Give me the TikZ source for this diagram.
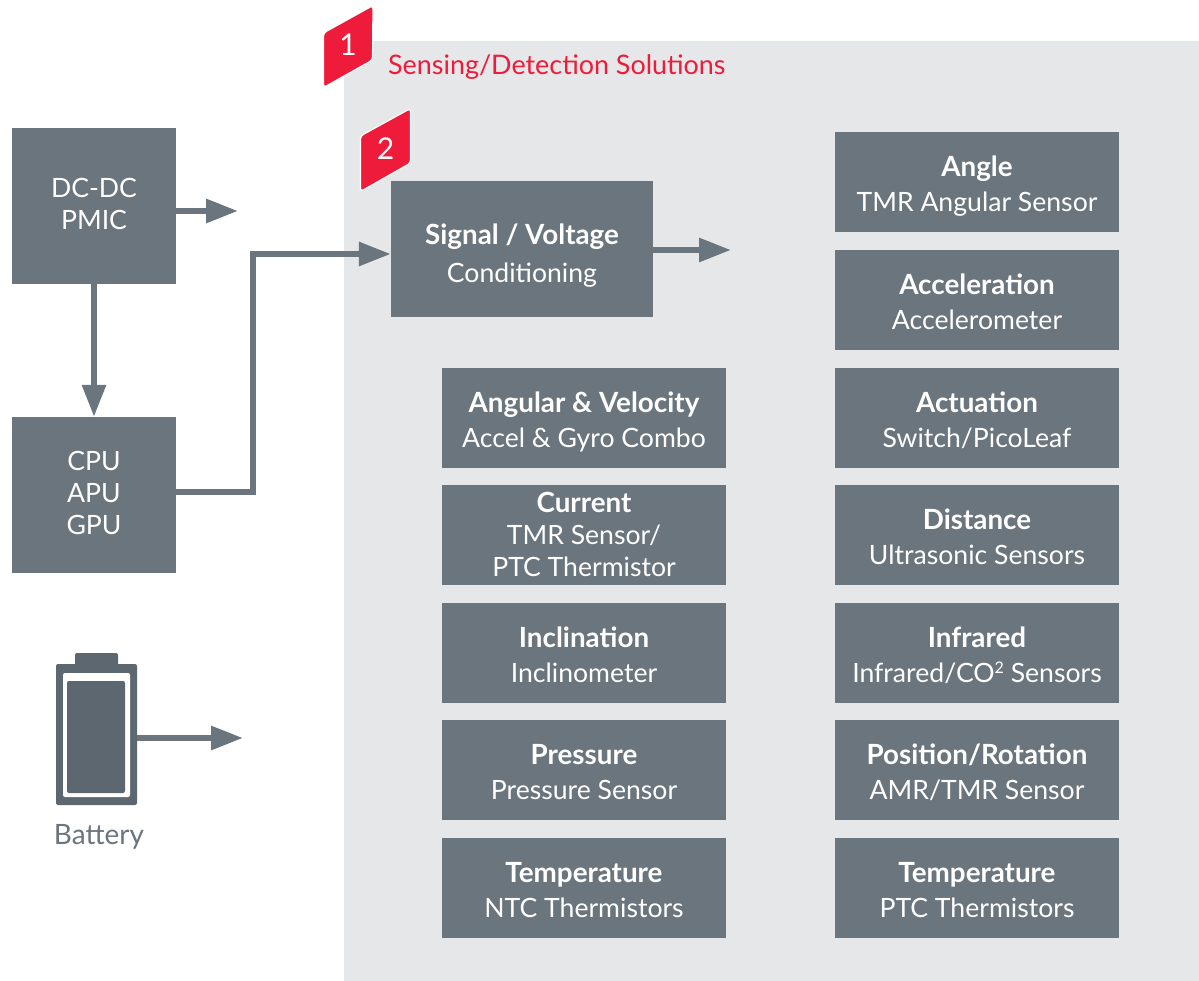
\documentclass[tikz,border=0pt]{standalone}
\usepackage{fontspec}
\setmainfont{Lato}
\usetikzlibrary{arrows.meta}
\definecolor{boxgrey}{HTML}{6B757D}
\definecolor{bggrey}{HTML}{E6E7E9}
\definecolor{alertred}{HTML}{EE1C3A}
\definecolor{batgrey}{HTML}{5C676F}
\newcommand{\hd}[1]{{\bfseries\fontsize{27.8}{30}\selectfont #1}}
\newcommand{\bal}[2]{\rule{0pt}{#1pt}#2\rule[-7pt]{0pt}{7pt}}
\tikzset{
  x=1pt,y=-1pt,
  block/.style={fill=boxgrey,text=white,align=center,inner sep=0pt,minimum width=284pt,minimum height=100pt,font=\fontsize{26.6}{35}\selectfont},
  tallblock/.style={block,minimum width=164pt,minimum height=156pt,font=\fontsize{26.6}{32}\selectfont},
  flow/.style={draw=boxgrey,line width=6pt,-{Triangle[length=32pt,width=23pt]}},
  badge/.style={fill=alertred,draw=white,line width=1.2pt,rounded corners=3pt},
  badgetext/.style={text=white,font=\fontsize{30}{30}\selectfont,inner sep=0pt},
  boxlabel/.style={text=boxgrey,inner sep=0pt},
}
\begin{document}
\begin{tikzpicture}
\useasboundingbox (0,0) rectangle (1199,981);
\fill[bggrey] (344,41) rectangle (1199,981);

% left column
\node[tallblock] (dc) at (94,206) {\bal{23}{DC-DC\\PMIC}};
\node[tallblock] (cpu) at (94,495) {\bal{22}{CPU\\APU\\GPU}};
\node[block,minimum width=262pt,minimum height=136pt,font=\fontsize{26.6}{38}\selectfont] (sig) at (522,249) {\bal{36}{\hd{Signal / Voltage}\\Conditioning}};

% sensor grid
\node[block] (ang) at (977,182) {\bal{32}{\hd{Angle}\\TMR Angular Sensor}};
\node[block] (acc) at (977,300) {\bal{32}{\hd{Acceleration}\\Accelerometer}};
\node[block] (act) at (977,418) {\bal{30}{\hd{Actuation}\\Switch/PicoLeaf}};
\node[block] (dis) at (977,535) {\bal{30}{\hd{Distance}\\Ultrasonic Sensors}};
\node[block] (inf) at (977,653) {\bal{30}{\hd{Infrared}\\Infrared/CO{\fontsize{16}{16}\selectfont\raisebox{9pt}{2}} Sensors}};
\node[block] (pos) at (977,770) {\bal{30}{\hd{Position/Rotation}\\AMR/TMR Sensor}};
\node[block] (tp2) at (977,888) {\bal{30}{\hd{Temperature}\\PTC Thermistors}};
\node[block] (vel) at (584,418) {\bal{30}{\hd{Angular \& Velocity}\\Accel \& Gyro Combo}};
\node[block,font=\fontsize{26.6}{32}\selectfont] (cur) at (584,535) {\bal{26}{\hd{Current}\\TMR Sensor/\\PTC Thermistor}};
\node[block] (inc) at (584,653) {\bal{30}{\hd{Inclination}\\Inclinometer}};
\node[block] (pre) at (584,770) {\bal{30}{\hd{Pressure}\\Pressure Sensor}};
\node[block] (tp1) at (584,888) {\bal{30}{\hd{Temperature}\\NTC Thermistors}};

% battery
\fill[batgrey,rounded corners=2pt] (75,653) rectangle (118,668);
\fill[batgrey,rounded corners=2pt] (56,664) rectangle (137,805);
\fill[white,rounded corners=2pt] (63,673) rectangle (130,797);
\fill[batgrey,rounded corners=2pt] (67,681) rectangle (125,793);
\coordinate (bat) at (137,738);
\node[boxlabel,font=\fontsize{28}{30}\selectfont] (batl) at (99,837) {Battery};

% connectors
\coordinate (dcout) at (238,211);
\coordinate (sigout) at (731,250);
\coordinate (batout) at (243,738);
\draw[flow] (dc.east |- dcout) -- (dcout);
\draw[flow] (dc.south) -- (cpu.north);
\draw[flow] (cpu.east |- 0,492) -- (253,492) -- (253,254) -- (sig.west |- 0,254);
\draw[flow] (sig.east |- sigout) -- (sigout);
\draw[flow] (bat) -- (batout);

% badges
\draw[badge] (323.5,33) -- (373,5.5) -- (372.5,60) -- (323.5,87.5) -- cycle;
\node[badgetext] (n1) at (348,45) {1};
\draw[badge] (360.5,136) -- (410.5,108.5) -- (410.5,163) -- (360.5,191.5) -- cycle;
\node[badgetext] (n2) at (385.5,149) {2};
\node[text=alertred,inner sep=0pt,anchor=west,font=\fontsize{26.9}{30}\selectfont] (title) at (388,67.5) {Sensing/Detection Solutions};
\end{tikzpicture}
\end{document}
